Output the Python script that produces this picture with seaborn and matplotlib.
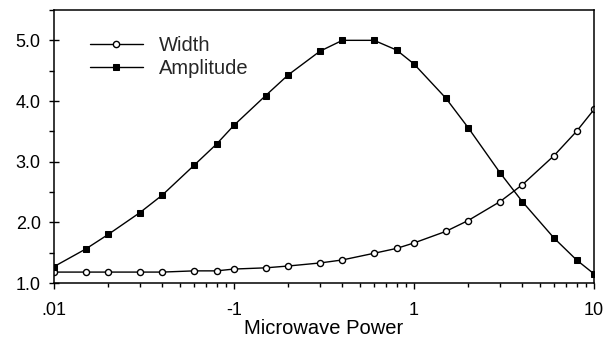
import matplotlib
matplotlib.use("Agg")
import matplotlib.pyplot as plt
import matplotlib.ticker as mticker
import seaborn as sns
import pandas as pd

power = [0.01, 0.015, 0.02, 0.03, 0.04, 0.06, 0.08, 0.1, 0.15, 0.2, 0.3, 0.4,
         0.6, 0.8, 1, 1.5, 2, 3, 4, 6, 8, 10]
width = [1.18, 1.18, 1.18, 1.18, 1.18, 1.20, 1.20, 1.23, 1.25, 1.28, 1.33, 1.38,
         1.49, 1.57, 1.66, 1.85, 2.03, 2.34, 2.62, 3.10, 3.50, 3.86]
amplitude = [1.27, 1.56, 1.80, 2.16, 2.45, 2.94, 3.29, 3.60, 4.09, 4.43, 4.82, 5.00,
             5.00, 4.84, 4.61, 4.05, 3.56, 2.82, 2.34, 1.74, 1.38, 1.15]
xtick_vals = [0.01, 0.1, 1, 10]
xtick_labels = [".01", "-1", "1", "10"]
ytick_vals = [1.0, 2.0, 3.0, 4.0, 5.0]

df = pd.DataFrame({"power": power, "Width": width, "Amplitude": amplitude})

sns.set_theme(style="ticks")
plt.rcParams["font.family"] = ["Liberation Sans", "DejaVu Sans"]

fig = plt.figure(figsize=(6.1, 3.4), dpi=100)
ax = fig.add_axes([54 / 610, 1 - 283 / 340, (594 - 54) / 610, (283 - 10) / 340])

sns.lineplot(data=df, x="power", y="Width", ax=ax, color="black", lw=1.0,
             marker="o", markersize=4.4, markerfacecolor="white",
             markeredgecolor="black", markeredgewidth=1.0, label="Width")
sns.lineplot(data=df, x="power", y="Amplitude", ax=ax, color="black", lw=1.0,
             marker="s", markersize=4.8, markerfacecolor="black",
             markeredgecolor="black", label="Amplitude")

ax.set_xscale("log")
ax.set_xlim(0.01, 10)
ax.set_ylim(1.0, 5.5)
ax.set_xticks(xtick_vals)
ax.set_xticklabels(xtick_labels)
ax.xaxis.set_minor_locator(mticker.LogLocator(base=10, subs=range(2, 10), numticks=20))
ax.xaxis.set_minor_formatter(mticker.NullFormatter())
ax.set_yticks(ytick_vals)
ax.yaxis.set_major_formatter(mticker.FormatStrFormatter("%.1f"))
ax.yaxis.set_minor_locator(mticker.MultipleLocator(0.5))

ax.tick_params(axis="x", which="major", direction="out", length=4.5, width=1,
               color="black", labelsize=13, labelcolor="black", pad=9)
ax.tick_params(axis="x", which="minor", direction="out", length=3, width=1,
               color="black")
ax.tick_params(axis="y", which="major", direction="inout", length=7, width=1,
               color="black", labelsize=13, labelcolor="black", pad=6)
ax.tick_params(axis="y", which="minor", direction="out", length=3.5, width=1,
               color="black")
for s in ax.spines.values():
    s.set_color("black")
    s.set_linewidth(1.1)
    s.set_visible(True)

ax.set_xlabel("Microwave Power", fontsize=14.5, color="black", labelpad=0)
ax.set_ylabel("")

leg = ax.legend(loc="upper left", bbox_to_anchor=(0.067, 0.905), frameon=False,
                fontsize=14.5, handlelength=2.6, handletextpad=0.8,
                labelspacing=0.2, numpoints=1, borderaxespad=0, borderpad=0)
for h in leg.legend_handles:
    h.set_markersize(4.5)

fig.savefig("out.png", dpi=100)
